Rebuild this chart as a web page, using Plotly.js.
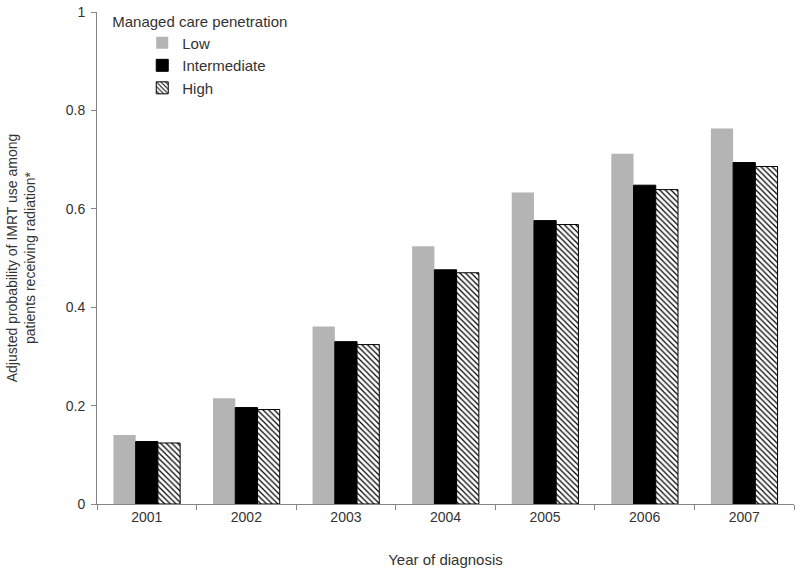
<!DOCTYPE html>
<html>
<head>
<meta charset="utf-8">
<script src="https://cdn.plot.ly/plotly-3.0.1.min.js"></script>
<style>
  html, body { margin: 0; padding: 0; background: #fff; }
  #chart { width: 800px; height: 573px; }
</style>
</head>
<body>
<div id="chart"></div>
<script>
// years of diagnosis
const years = ['2001', '2002', '2003', '2004', '2005', '2006', '2007'];

// adjusted probability by managed care penetration
const lowValues = [0.140, 0.215, 0.361, 0.524, 0.633, 0.712, 0.763];
const intermediateValues = [0.127, 0.196, 0.330, 0.476, 0.576, 0.648, 0.694];
const highValues = [0.124, 0.192, 0.324, 0.470, 0.568, 0.639, 0.686];

const yTicks = [0, 0.2, 0.4, 0.6, 0.8, 1];
const yTickLabels = ['0', '0.2', '0.4', '0.6', '0.8', '1'];

const textColor = '#333333';
const axisColor = '#868686';

const traces = [
  {
    type: 'bar',
    name: 'Low',
    x: years,
    y: lowValues,
    legendgroup: 'low',
    marker: { color: '#b4b4b4', line: { width: 0 } }
  },
  {
    type: 'bar',
    name: 'Intermediate',
    x: years,
    y: intermediateValues,
    legendgroup: 'intermediate',
    marker: { color: '#000000', line: { color: '#000000', width: 1 } }
  },
  {
    type: 'bar',
    name: 'High',
    x: years,
    y: highValues,
    legendgroup: 'high',
    marker: {
      color: '#ffffff',
      line: { color: '#000000', width: 1 },
      pattern: { shape: '\\', fgcolor: '#000000', bgcolor: '#ffffff', size: 4, solidity: 0.3 }
    }
  }
];

const layout = {
  width: 800,
  height: 573,
  margin: { t: 12, r: 6, b: 69, l: 97 },
  paper_bgcolor: '#ffffff',
  plot_bgcolor: '#ffffff',
  font: { family: '"Liberation Sans", Arial, sans-serif', size: 14, color: textColor },
  barmode: 'group',
  bargap: 0.33,
  bargroupgap: 0,
  showlegend: true,
  legend: {
    x: 0.019,
    y: 1.01,
    xanchor: 'left',
    yanchor: 'top',
    bgcolor: 'rgba(0,0,0,0)',
    traceorder: 'normal',
    tracegroupgap: 5,
    indentation: 32,
    itemwidth: 30,
    title: { text: 'Managed care penetration', font: { size: 15, color: textColor } },
    font: { size: 15, color: textColor }
  },
  xaxis: {
    type: 'category',
    showline: true,
    linecolor: axisColor,
    linewidth: 1,
    showgrid: false,
    zeroline: false,
    ticks: 'outside',
    tickson: 'boundaries',
    ticklen: 5,
    tickcolor: axisColor,
    tickfont: { size: 14, color: textColor },
    title: { text: 'Year of diagnosis', font: { size: 15, color: textColor }, standoff: 30 },
    automargin: false
  },
  yaxis: {
    range: [0, 1],
    tickvals: yTicks,
    ticktext: yTickLabels,
    showline: true,
    linecolor: axisColor,
    linewidth: 1,
    showgrid: false,
    zeroline: false,
    ticks: 'outside',
    ticklen: 5,
    tickcolor: axisColor,
    ticklabelstandoff: 3,
    tickfont: { size: 14, color: textColor },
    title: {
      text: 'Adjusted probability of IMRT use among<br>patients receiving radiation*',
      font: { size: 14, color: textColor },
      standoff: 26
    },
    automargin: false
  }
};

Plotly.newPlot('chart', traces, layout, { displayModeBar: false, staticPlot: true });
</script>
</body>
</html>
